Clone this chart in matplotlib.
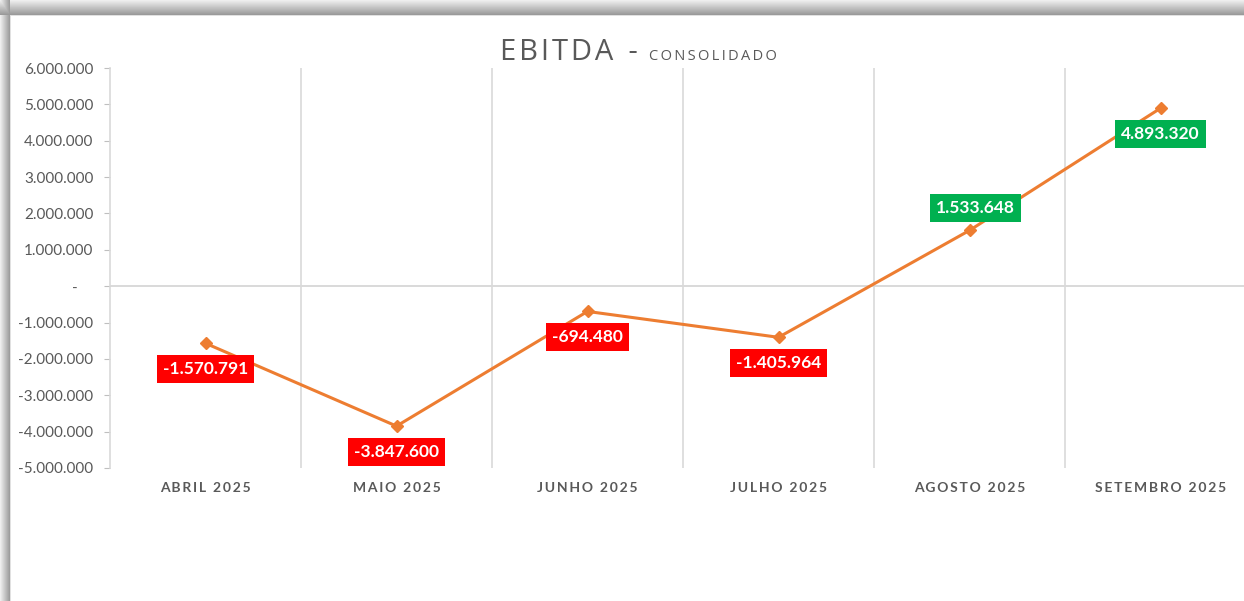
import numpy as np
import matplotlib
matplotlib.use('Agg')
import matplotlib.pyplot as plt
from matplotlib.ticker import FuncFormatter, MultipleLocator

plt.rcParams['font.family'] = ['Lato', 'DejaVu Sans']

# data
meses = ['ABRIL 2025', 'MAIO 2025', 'JUNHO 2025', 'JULHO 2025', 'AGOSTO 2025', 'SETEMBRO 2025']
ebitda = [-1570791, -3847600, -694480, -1405964, 1533648, 4893320]
rotulos = ['-1.570.791', '-3.847.600', '-694.480', '-1.405.964', '1.533.648', '4.893.320']

W, H = 1244, 601
fig = plt.figure(figsize=(W / 100, H / 100), dpi=100)

# screenshot shadow frame (card starts at x=10, y=15)
bg = fig.add_axes([0, 0, 1, 1])
bg.axis('off')
yy, xx = np.mgrid[0:H, 0:W]
dtop = np.clip((15 - yy) / 15.0, 0, 1)
dleft = np.clip((10 - xx) / 10.0, 0, 1)
inside = (yy >= 15) & (xx >= 10)
shade = np.maximum(np.where(yy < 15, 1 - dtop, 0), np.where(xx < 10, 1 - dleft, 0))
img = np.where(inside, 1.0, 0.93 - 0.35 * shade)
img[15, 10:] = 0.88
img[15:, 10] = 0.88
bg.imshow(img, cmap='gray', vmin=0, vmax=1, aspect='auto', interpolation='nearest')

ax = fig.add_axes([110 / W, 133 / H, 1146 / W, 400 / H])
ax.set_facecolor('white')

x = np.arange(len(meses))
ax.plot(x, ebitda, color='#ED7D31', lw=2.2, marker='D', markersize=6, zorder=3)

ax.set_xlim(-0.5, len(meses) - 0.5)
ax.set_ylim(-5000000, 6000000)
ax.yaxis.set_major_locator(MultipleLocator(1000000))

def fmt(v, pos):
    if v == 0:
        return '-    '
    return '{:,.0f}'.format(v).replace(',', '.')

ax.yaxis.set_major_formatter(FuncFormatter(fmt))

# category boundaries as vertical grid lines
ax.set_xticks(np.arange(0.5, len(meses) - 0.5, 1), minor=True)
ax.grid(True, which='minor', axis='x', color='#d9d9d9', lw=1.2)
ax.tick_params(axis='x', which='minor', length=0)
ax.axhline(0, color='#d9d9d9', lw=1.4, zorder=1)

espacado = ['\u2009'.join(m) for m in meses]
ax.set_xticks(x)
ax.set_xticklabels(espacado, fontsize=10, fontweight='bold', color='#595959')
ax.tick_params(axis='x', which='major', length=0, pad=10)
ax.tick_params(axis='y', length=4, color='#bfbfbf', labelcolor='#595959', labelsize=11, pad=8)

for s in ['top', 'right', 'bottom']:
    ax.spines[s].set_visible(False)
ax.spines['left'].set_color('#d9d9d9')
ax.spines['left'].set_linewidth(1.2)

# data labels
for i, (v, t) in enumerate(zip(ebitda, rotulos)):
    cor = '#00B050' if v > 0 else '#FF0000'
    if i == 4:
        off = (4, 16)
    else:
        off = (0, -18.5)
    ax.annotate(t, (i, v), xytext=off, textcoords='offset points', ha='center', va='center',
                color='white', fontsize=12.5, fontweight='bold', zorder=5,
                bbox=dict(boxstyle='square,pad=0.35', fc=cor, ec='none'))

# title
fig.text(638 / W, (H - 60) / H, '\u200a'.join('EBITDA') + '  -', fontsize=21,
         family=['Open Sans', 'DejaVu Sans'], color='#595959', ha='right', va='baseline')
fig.text(649 / W, (H - 60) / H, '\u2009'.join('CONSOLIDADO'), fontsize=10.5,
         family=['Open Sans', 'DejaVu Sans'], color='#595959', ha='left', va='baseline')

fig.savefig('out.png', dpi=100)
